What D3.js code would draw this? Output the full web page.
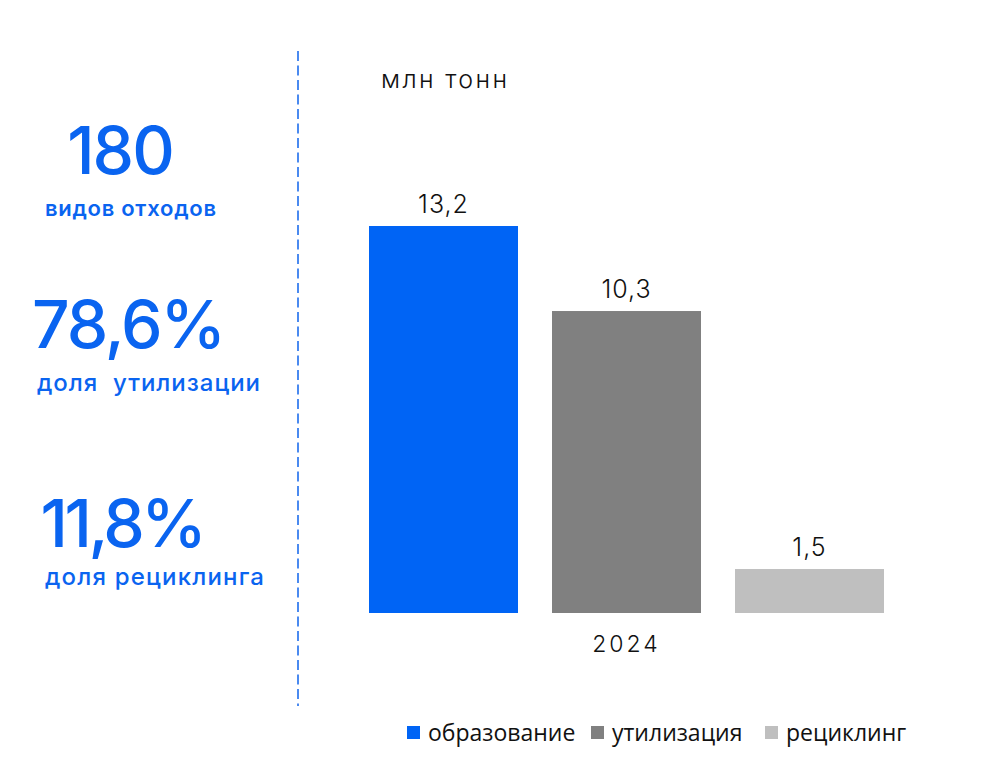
<!DOCTYPE html>
<html>
<head>
<meta charset="utf-8">
<script src="https://cdn.jsdelivr.net/npm/d3@7"></script>
<style>
  body { margin: 0; background: #fff; }
  svg { display: block; }
</style>
</head>
<body>
<svg id="chart" width="989" height="765"></svg>
<script>
// data
var years = ["2024"];
var series = ["образование", "утилизация", "рециклинг"];
var values = [13.2, 10.3, 1.5];
var unitLabel = "млн тонн";
var statValues = ["180", "78,6%", "11,8%"];
var statLabels = ["видов отходов", "доля  утилизации", "доля рециклинга"];

var palette = ["#0064f5", "#808080", "#bfbfbf"];
var blue = "#0a64f0";
var headFont = "Inter, 'Noto Sans', sans-serif";
var legendFont = "'Open Sans', 'Noto Sans', sans-serif";

var svg = d3.select("#chart");

  // left column: key figures (layout only)
var statPos = [
  {x: 120, y: 174, ls: -2, lx: 130.5, ly: 216, lsize: 22, lweight: 600, lw: 171},
  {x: 128, y: 348, ls: -2, lx: 148.5, ly: 391, lsize: 24, lweight: 500, lw: 223},
  {x: 122, y: 547, ls: -3.5, lx: 154.5, ly: 585, lsize: 24, lweight: 500, lw: 219}
];
var stats = svg.append("g").attr("class", "stats");
statValues.forEach(function(v, i) {
  var p = statPos[i];
  stats.append("text")
      .attr("x", p.x)
      .attr("y", p.y)
      .attr("text-anchor", "middle")
      .style("font-family", headFont)
      .style("font-size", "66px")
      .style("font-weight", 500)
      .style("letter-spacing", p.ls + "px")
      .style("fill", blue)
      .text(v);
  stats.append("text")
      .attr("x", p.lx)
      .attr("y", p.ly)
      .attr("text-anchor", "middle")
      .attr("xml:space", "preserve")
      .attr("textLength", p.lw)
      .attr("lengthAdjust", "spacing")
      .style("font-family", headFont)
      .style("font-size", p.lsize + "px")
      .style("font-weight", p.lweight)
      .style("white-space", "pre")
      .style("fill", blue)
      .text(statLabels[i]);
});

  // dashed separator
svg.append("line")
    .attr("x1", 298).attr("x2", 298)
    .attr("y1", 51).attr("y2", 706)
    .style("stroke", "#4a8af0")
    .style("stroke-width", 2)
    .style("stroke-dasharray", "10,4.5");

  // scales
var xYear = d3.scaleBand()
    .domain(years)
    .range([369, 884]);
var x = d3.scaleBand()
    .domain(series)
    .range([0, xYear.bandwidth()])
    .paddingInner(34 / 183);
var y = d3.scaleLinear()
    .domain([0, d3.max(values)])
    .range([613, 226]);

var plot = svg.append("g").attr("class", "plot");

var groups = plot.selectAll("g.year")
    .data(years)
    .join("g")
    .attr("class", "year")
    .attr("transform", function(d) { return "translate(" + xYear(d) + ",0)"; });

var rows = series.map(function(s, i) { return {name: s, value: values[i], color: palette[i]}; });

groups.selectAll("rect")
    .data(rows)
    .join("rect")
    .attr("x", function(d) { return x(d.name); })
    .attr("y", function(d) { return y(d.value); })
    .attr("width", x.bandwidth())
    .attr("height", function(d) { return y(0) - y(d.value); })
    .style("fill", function(d) { return d.color; });

groups.selectAll("text.value")
    .data(rows)
    .join("text")
    .attr("class", "value")
    .attr("x", function(d) { return x(d.name) + x.bandwidth() / 2; })
    .attr("y", function(d) { return y(d.value) - 13; })
    .attr("text-anchor", "middle")
    .style("font-family", headFont)
    .style("font-size", "25px")
    .style("font-weight", 300)
    .style("letter-spacing", "1px")
    .style("fill", "#111")
    .text(function(d) { return String(d.value).replace(".", ","); });

  // category axis (year)
var axisX = svg.append("g")
    .attr("class", "axis bottom")
    .attr("transform", "translate(0," + y(0) + ")")
    .call(d3.axisBottom(xYear).tickSize(0).tickPadding(23));
axisX.select(".domain").remove();
axisX.selectAll("text")
    .style("font-family", headFont)
    .style("font-size", "23px")
    .style("font-weight", 300)
    .style("letter-spacing", "3px")
    .style("fill", "#111")
    .attr("dy", "0.71em");

  // unit
svg.append("text")
    .attr("x", 444)
    .attr("y", 88)
    .attr("text-anchor", "middle")
    .attr("textLength", 126)
    .attr("lengthAdjust", "spacing")
    .style("font-family", headFont)
    .style("font-size", "25px")
    .style("font-weight", 300)
    .style("fill", "#111")
    .text(unitLabel);

  // legend
var legendX = [407, 591, 765];
var legend = svg.append("g").attr("class", "legend");
rows.forEach(function(d, i) {
  legend.append("rect")
      .attr("x", legendX[i])
      .attr("y", 726)
      .attr("width", 13)
      .attr("height", 13)
      .style("fill", d.color);
  legend.append("text")
      .attr("x", legendX[i] + 21)
      .attr("y", 741)
      .style("font-family", legendFont)
      .style("font-size", "23px")
      .style("fill", "#111")
      .text(d.name);
});
</script>
</body>
</html>
